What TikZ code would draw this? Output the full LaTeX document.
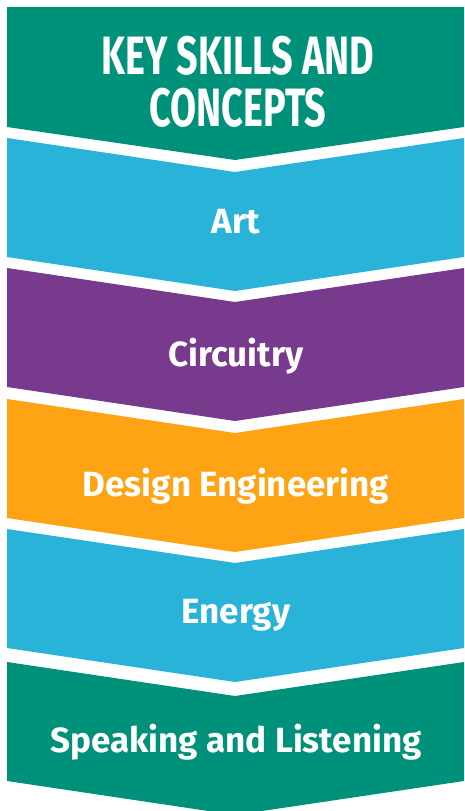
\documentclass[tikz,border=0pt]{standalone}
\usepackage{fontspec}
\setmainfont{Fira Sans}
\usepackage{tikz}
\usetikzlibrary{positioning, calc}

\definecolor{keyteal}{HTML}{00917A}
\definecolor{keyblue}{HTML}{29B3D8}
\definecolor{keypurple}{HTML}{773A8C}
\definecolor{keyorange}{HTML}{FDA314}

\begin{document}
\begin{tikzpicture}[
  x=1pt, y=-1pt,
  bandtext/.style={text=white, font=\fontsize{35}{38}\selectfont\bfseries, inner sep=0pt, anchor=base},
  headtext/.style={text=white, font=\fontsize{54}{60}\selectfont\bfseries, inner sep=0pt, align=center},
]
\useasboundingbox (0,0) rectangle (464,811);

% Header band (flat top)
\fill[keyteal] (7,7) -- (464,7) -- (464,127) -- (235,160) -- (7,127) -- cycle;
\node[headtext] (head) at (238,82) {\scalebox{0.7}[1]{KEY SKILLS AND}\\[-8pt]\scalebox{0.7}[1]{CONCEPTS}};

% Chevron bands
\foreach \top/\col in {138/keyblue, 268/keypurple, 399/keyorange, 529/keyblue, 662/keyteal}
  \fill[\col] (7,\top) -- (235,\top+34) -- (464,\top) -- (464,\top+119) -- (235,\top+153) -- (7,\top+119) -- cycle;

% Labels
\node[bandtext] (art) at (236,233) {Art};
\node[bandtext] (circ) at (236,366) {Circuitry};
\node[bandtext] (design) at (236,496) {Design Engineering};
\node[bandtext] (energy) at (236,623) {Energy};
\node[bandtext] (speak) at (236,752) {Speaking and Listening};
\end{tikzpicture}
\end{document}
